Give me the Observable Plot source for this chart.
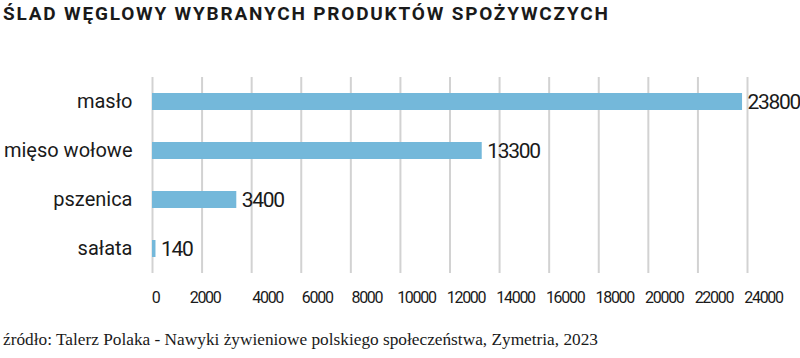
<!DOCTYPE html>
<html lang="pl">
<head>
<meta charset="utf-8">
<script src="https://cdn.jsdelivr.net/npm/d3@7"></script>
<script src="https://cdn.jsdelivr.net/npm/@observablehq/plot@0.6"></script>
<style>
  html, body { margin: 0; padding: 0; background: #ffffff; }
  body { width: 800px; height: 358px; overflow: hidden; }
  #title {
    font-family: Roboto, "DejaVu Sans", sans-serif;
    font-weight: 700;
    font-size: 19px;
    line-height: 24px;
    letter-spacing: 1.8px;
    color: #1a1a1a;
    padding: 2px 0 0 3px;
    height: 38px;
    box-sizing: border-box;
    white-space: nowrap;
  }
  #chart svg { display: block; }
  #chart .num text { letter-spacing: -1.3px; }
  #chart .tick text { letter-spacing: -1.3px; }
  #caption {
    font-family: "Liberation Serif", "DejaVu Serif", serif;
    font-size: 17.3px;
    line-height: 18px;
    color: #1a1a1a;
    margin-top: 13px;
    padding-left: 3px;
    white-space: nowrap;
  }
</style>
</head>
<body>
<div id="title"></div>
<div id="chart"></div>
<div id="caption"></div>
<script>
const titleText = "ŚLAD WĘGLOWY WYBRANYCH PRODUKTÓW SPOŻYWCZYCH";
const captionText = "źródło: Talerz Polaka - Nawyki żywieniowe polskiego społeczeństwa, Zymetria, 2023";

const categories = ["masło", "mięso wołowe", "pszenica", "sałata"];
const values = [23800, 13300, 3400, 140];
const tickValuesNear = [0, 2000];
const tickValuesFar = [4000, 6000, 8000, 10000, 12000, 14000, 16000, 18000, 20000, 22000, 24000];
const allTicks = tickValuesNear.concat(tickValuesFar);

const data = categories.map((name, i) => ({name, value: values[i]}));

document.getElementById("title").textContent = titleText;
document.getElementById("caption").textContent = captionText;

const barColor = "#74b8da";
const textColor = "#1a1a1a";

const chart = Plot.plot({
  width: 800,
  height: 280,
  marginTop: 39,
  marginBottom: 45,
  marginLeft: 152,
  marginRight: 53,
  style: {background: "#ffffff", overflow: "visible"},
  x: {domain: [0, 24000]},
  y: {domain: categories, paddingInner: 0.65, paddingOuter: 0.325},
  marks: [
    Plot.gridX(allTicks, {stroke: "#d2d2d2", strokeOpacity: 1, strokeWidth: 2}),
    Plot.barX(data, {x: "value", y: "name", fill: barColor}),
    Plot.text(data, {
      x: "value", y: "name", text: d => String(d.value),
      textAnchor: "start", dx: 5, fontSize: 21, fontFamily: "Roboto, sans-serif",
      fill: textColor, className: "num"
    }),
    Plot.axisY({
      tickSize: 0, tickPadding: 20, fontSize: 20,
      fontFamily: "Roboto, sans-serif", fill: textColor, label: null
    }),
    Plot.axisX(tickValuesNear, {
      tickSize: 0, tickPadding: 18, fontSize: 16, dx: 3, className: "tick",
      fontFamily: "Roboto, sans-serif", fill: textColor, label: null, tickFormat: d => String(d)
    }),
    Plot.axisX(tickValuesFar, {
      tickSize: 0, tickPadding: 18, fontSize: 16, dx: 16, className: "tick",
      fontFamily: "Roboto, sans-serif", fill: textColor, label: null, tickFormat: d => String(d)
    })
  ]
});
document.getElementById("chart").appendChild(chart);
</script>
</body>
</html>
